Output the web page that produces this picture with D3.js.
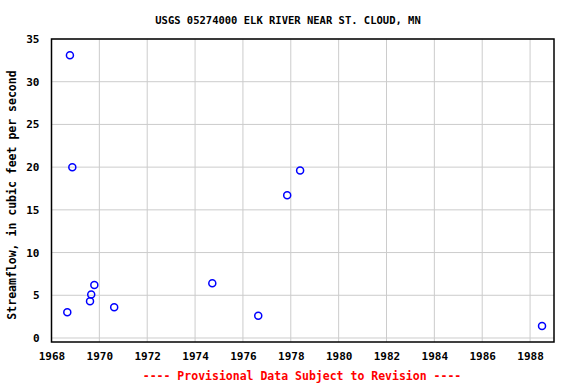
<!DOCTYPE html>
<html>
<head>
<meta charset="utf-8">
<script src="https://cdn.jsdelivr.net/npm/d3@7"></script>
<style>
  body { margin: 0; background: #fff; }
  text { font-family: "DejaVu Sans Mono", monospace; font-weight: bold; }
</style>
</head>
<body>
<div class="chart"></div>
<script>
// data: decimal year, streamflow (cfs)
const years = [1968.66, 1968.77, 1968.87, 1969.61, 1969.66, 1969.79, 1970.62,
  1974.72, 1976.64, 1977.85, 1978.39, 1988.5];
const flows = [3.0, 33.1, 20.0, 4.3, 5.1, 6.2, 3.6, 6.4, 2.6, 16.7, 19.6, 1.4];
const xTicks = [1968, 1970, 1972, 1974, 1976, 1978, 1980, 1982, 1984, 1986, 1988];
const yTicks = [0, 5, 10, 15, 20, 25, 30, 35];

const W = 576, H = 384;
const margin = { top: 39, right: 22, bottom: 42, left: 51.5 },
  width = W - margin.left - margin.right,
  height = H - margin.top - margin.bottom;

const svg = d3.select(".chart")
  .append("svg")
  .attr("width", W)
  .attr("height", H);

const g = svg.append("g")
  .attr("transform", `translate(${margin.left},${margin.top})`);

const x = d3.scaleLinear().domain([1968, 1989]).range([0, width]);
const y = d3.scaleLinear().domain([-0.47, 35]).range([height, 0]);

// gridlines
g.append("g")
  .selectAll("line")
  .data(xTicks)
  .join("line")
  .attr("x1", d => x(d)).attr("x2", d => x(d))
  .attr("y1", 0).attr("y2", height)
  .attr("stroke", "#cccccc");
g.append("g")
  .selectAll("line")
  .data(yTicks)
  .join("line")
  .attr("x1", 0).attr("x2", width)
  .attr("y1", d => y(d)).attr("y2", d => y(d))
  .attr("stroke", "#cccccc");

// axes labels (no tick marks)
const xAxis = g.append("g")
  .attr("transform", `translate(0,${height})`)
  .call(d3.axisBottom(x).tickValues(xTicks).tickFormat(d3.format("d")).tickSize(0).tickPadding(10));
xAxis.select(".domain").remove();
xAxis.selectAll("text").style("font-size", "11px").attr("fill", "#000");

const yAxis = g.append("g")
  .call(d3.axisLeft(y).tickValues(yTicks).tickSize(0).tickPadding(12));
yAxis.select(".domain").remove();
yAxis.selectAll("text").style("font-size", "11px").attr("fill", "#000");

// frame
g.append("rect")
  .attr("width", width).attr("height", height)
  .attr("fill", "none").attr("stroke", "#000").attr("stroke-width", 1.5);

// points
g.selectAll("circle.pt")
  .data(years.map((yr, i) => [yr, flows[i]]))
  .join("circle")
  .attr("class", "pt")
  .attr("cx", d => x(d[0]))
  .attr("cy", d => y(d[1]))
  .attr("r", 3.5)
  .attr("fill", "none")
  .attr("stroke", "#0000ff")
  .attr("stroke-width", 1.5);

// title
svg.append("text")
  .attr("x", 288)
  .attr("y", 24)
  .attr("text-anchor", "middle")
  .style("font-size", "10.5px")
  .text("USGS 05274000 ELK RIVER NEAR ST. CLOUD, MN");

// y label
svg.append("text")
  .attr("transform", `translate(16,195) rotate(-90)`)
  .attr("text-anchor", "middle")
  .style("font-size", "11.5px")
  .text("Streamflow, in cubic feet per second");

// footer
svg.append("text")
  .attr("x", 302)
  .attr("y", 380)
  .attr("text-anchor", "middle")
  .attr("fill", "#ff0000")
  .style("font-size", "11.5px")
  .text("---- Provisional Data Subject to Revision ----");
</script>
</body>
</html>
